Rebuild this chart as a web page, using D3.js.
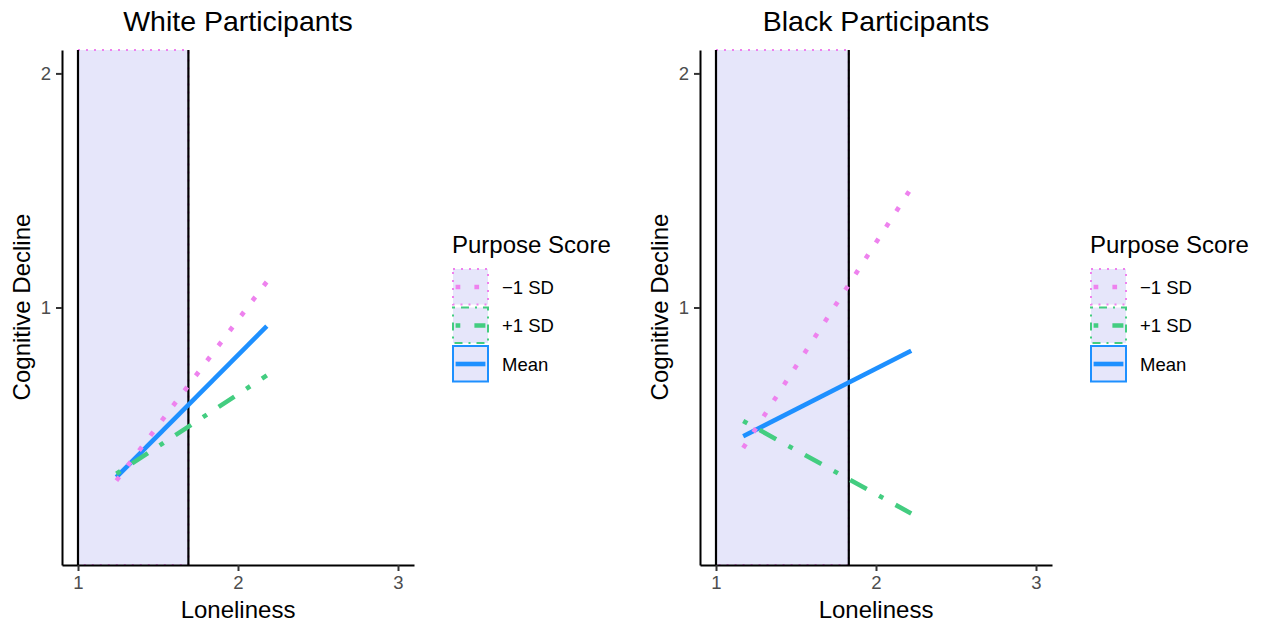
<!DOCTYPE html>
<html>
<head>
<meta charset="utf-8">
<script src="https://cdn.jsdelivr.net/npm/d3@7"></script>
<style>
  body { margin: 0; background: #fff; }
  text { font-family: "Liberation Sans", Arial, sans-serif; }
</style>
</head>
<body>
<div id="chart"></div>
<script>
// Panel titles and legend groups
const panelTitles = ['White Participants', 'Black Participants'];
const groups = ['\u22121 SD', '+1 SD', 'Mean'];

// Simple slopes, start and end of each line
const whiteX = [1.24, 2.18];
const whiteLow = [0.26, 1.11];
const whiteHigh = [0.29, 0.71];
const whiteMean = [0.275, 0.92];

const blackX = [1.17, 2.22];
const blackLow = [0.40, 1.51];
const blackHigh = [0.515, 0.12];
const blackMean = [0.45, 0.815];

// Shaded region: from loneliness 1 up to this value
const shadeEnd = [1.69, 1.83];

const xTicks = [1, 2, 3];
const yTicks = [1, 2];

const colors = { '\u22121 SD': '#EE82EE', '+1 SD': '#43CD80', 'Mean': '#1E90FF' };
const u = 4.7;
const dashes = { '\u22121 SD': `${u},${3 * u}`, '+1 SD': `${u},${3 * u},${4 * u},${3 * u}`, 'Mean': null };

const svg = d3.select('#chart')
  .append('svg')
  .attr('width', 1261)
  .attr('height', 622);

const panels = [
  { title: panelTitles[0], x: whiteX, series: [whiteLow, whiteHigh, whiteMean], shade: shadeEnd[0], left: 62 },
  { title: panelTitles[1], x: blackX, series: [blackLow, blackHigh, blackMean], shade: shadeEnd[1], left: 700 }
];

panels.forEach(p => {
  const g = svg.append('g');

  const xScale = d3.scaleLinear().domain([0.9, 3.1]).range([p.left, p.left + 352]);
  const yScale = d3.scaleLinear().domain([-0.1, 2.1]).range([565, 50]);

  // shaded region
  g.append('rect')
    .attr('x', xScale(1))
    .attr('y', yScale(2.1))
    .attr('width', xScale(p.shade) - xScale(1))
    .attr('height', yScale(-0.1) - yScale(2.1))
    .attr('fill', '#E6E6FA')
    .attr('stroke', '#EE82EE')
    .attr('stroke-width', 2)
    .attr('stroke-dasharray', '2,6');

  // borders of the region
  g.selectAll('.vline')
    .data([1, p.shade])
    .enter()
    .append('line')
    .attr('x1', d => xScale(d))
    .attr('x2', d => xScale(d))
    .attr('y1', yScale(2.1))
    .attr('y2', yScale(-0.1))
    .attr('stroke', 'black')
    .attr('stroke-width', 2.2);

  // lines, Mean first so the others sit on top
  const order = [2, 0, 1];
  order.forEach(i => {
    const name = groups[i];
    const pts = p.x.map((x, j) => [xScale(x), yScale(p.series[i][j])]);
    g.append('path')
      .attr('d', d3.line()(pts))
      .attr('fill', 'none')
      .attr('stroke', colors[name])
      .attr('stroke-width', 4.6)
      .attr('stroke-dasharray', dashes[name]);
  });

  // axes
  const xAxis = g.append('g')
    .attr('transform', 'translate(0,565)')
    .call(d3.axisBottom(xScale).tickValues(xTicks).tickFormat(d3.format('d')).tickSize(6).tickSizeOuter(0).tickPadding(5));
  const yAxis = g.append('g')
    .attr('transform', `translate(${p.left},0)`)
    .call(d3.axisLeft(yScale).tickValues(yTicks).tickFormat(d3.format('d')).tickSize(6).tickSizeOuter(0).tickPadding(5));

  [xAxis, yAxis].forEach(a => {
    a.attr('font-size', 18.5).attr('font-family', '"Liberation Sans", Arial, sans-serif');
    a.select('.domain').attr('stroke', 'black').attr('stroke-width', 2);
    a.selectAll('.tick line').attr('stroke', '#333').attr('stroke-width', 2);
    a.selectAll('.tick text')
      .attr('fill', '#4D4D4D')
      .style('font-size', '18.5px');
  });

  // titles
  g.append('text')
    .attr('x', p.left + 176)
    .attr('y', 31)
    .attr('text-anchor', 'middle')
    .style('font-size', '28.5px')
    .text(p.title);

  g.append('text')
    .attr('x', p.left + 176)
    .attr('y', 618)
    .attr('text-anchor', 'middle')
    .style('font-size', '24px')
    .text('Loneliness');

  g.append('text')
    .attr('transform', `translate(${p.left - 32},307) rotate(-90)`)
    .attr('text-anchor', 'middle')
    .style('font-size', '24px')
    .text('Cognitive Decline');

  // legend
  const lx = p.left + 390;
  const legend = g.append('g');
  legend.append('text')
    .attr('x', lx)
    .attr('y', 253)
    .style('font-size', '24px')
    .text('Purpose Score');

  groups.forEach((name, i) => {
    const ky = 268 + i * 38.5;
    legend.append('rect')
      .attr('x', lx + 1)
      .attr('y', ky + 1)
      .attr('width', 35)
      .attr('height', 35.5)
      .attr('fill', '#E6E6FA')
      .attr('stroke', colors[name])
      .attr('stroke-width', 2)
      .attr('stroke-dasharray', name === 'Mean' ? null : (name === '+1 SD' ? '2,6,8,6' : '2,6'));
    legend.append('line')
      .attr('x1', lx + 3.6)
      .attr('x2', lx + 33.4)
      .attr('y1', ky + 19)
      .attr('y2', ky + 19)
      .attr('stroke', colors[name])
      .attr('stroke-width', 4.6)
      .attr('stroke-dasharray', dashes[name]);
    legend.append('text')
      .attr('x', lx + 50)
      .attr('y', ky + 19)
      .attr('dy', '0.36em')
      .style('font-size', '18.5px')
      .text(name);
  });
});
</script>
</body>
</html>
